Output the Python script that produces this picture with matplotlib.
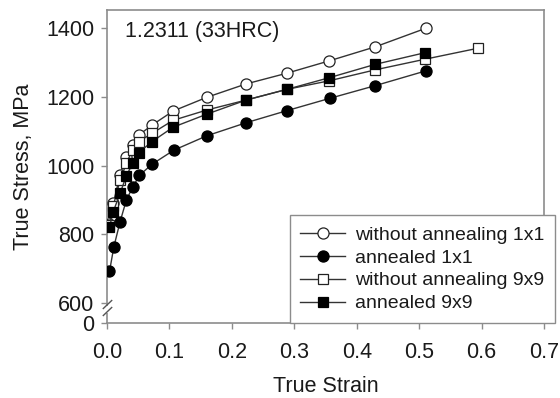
import matplotlib
matplotlib.use("Agg")
import matplotlib.pyplot as plt
from matplotlib.lines import Line2D

plt.rcParams['font.family'] = ['Liberation Sans', 'DejaVu Sans']

# Data
x_wo11 = [0.004, 0.010, 0.021, 0.031, 0.041, 0.051, 0.072, 0.106, 0.160, 0.223, 0.288, 0.356, 0.430, 0.511]
y_wo11 = [830, 890, 973, 1026, 1060, 1089, 1118, 1159, 1199, 1238, 1269, 1305, 1346, 1400]

x_an11 = [0.004, 0.011, 0.021, 0.031, 0.041, 0.052, 0.072, 0.107, 0.160, 0.223, 0.288, 0.357, 0.430, 0.511]
y_an11 = [692, 764, 837, 900, 937, 972, 1004, 1045, 1087, 1125, 1160, 1196, 1233, 1276]

x_wo99 = [0.004, 0.010, 0.021, 0.031, 0.041, 0.051, 0.072, 0.106, 0.160, 0.223, 0.288, 0.356, 0.430, 0.510, 0.595]
y_wo99 = [826, 883, 958, 1007, 1046, 1070, 1094, 1132, 1162, 1191, 1222, 1247, 1279, 1310, 1342]

x_an99 = [0.004, 0.010, 0.021, 0.031, 0.041, 0.051, 0.072, 0.106, 0.160, 0.223, 0.288, 0.356, 0.430, 0.510]
y_an99 = [821, 866, 920, 970, 1007, 1038, 1070, 1112, 1150, 1191, 1222, 1256, 1295, 1329]

labels = ["without annealing 1x1", "annealed 1x1", "without annealing 9x9", "annealed 9x9"]
xticks = [0.0, 0.1, 0.2, 0.3, 0.4, 0.5, 0.6, 0.7]
yticks = [600, 800, 1000, 1200, 1400]

W, H = 560, 398
fig = plt.figure(figsize=(W / 100, H / 100), dpi=100)
ax = fig.add_axes([107 / W, 1 - 322.7 / H, (544 - 107) / W, (322.7 - 10) / H])

y_zero = 543  # compressed position for the "0" label (broken axis)
lc = '#333333'
fs = 15.5
lfs = 14

ax.plot(x_wo11, y_wo11, '-o', color=lc, lw=1.0, mfc='white', mec='#222222', ms=8, mew=0.9,
        label=labels[0], zorder=3)
ax.plot(x_an11, y_an11, '-o', color=lc, lw=1.0, mfc='black', mec='black', ms=8, mew=0.9,
        label=labels[1], zorder=3)
ax.plot(x_wo99, y_wo99, '-s', color=lc, lw=1.0, mfc='white', mec='#222222', ms=7, mew=0.9,
        label=labels[2], zorder=3)
ax.plot(x_an99, y_an99, '-s', color=lc, lw=1.0, mfc='black', mec='black', ms=7, mew=0.9,
        label=labels[3], zorder=3)

ax.set_xlim(0, 0.7)
ax.set_ylim(y_zero, 1453)
ax.set_xticks(xticks)
ax.set_xticklabels([f"{v:.1f}" for v in xticks])
ax.set_yticks([y_zero] + yticks)
ax.set_yticklabels(["0"] + [str(v) for v in yticks])

for s in ax.spines.values():
    s.set_color('#8c8c8c')
    s.set_linewidth(1.2)
ax.tick_params(axis='both', colors='#8c8c8c', labelcolor='#1a1a1a', labelsize=fs,
               direction='out', length=4, width=1.0)
ax.tick_params(axis='x', pad=10)
ax.tick_params(axis='y', pad=5)

ax.set_xlabel("True Strain", fontsize=fs, color='#1a1a1a', labelpad=9)
ax.set_ylabel("True Stress, MPa", fontsize=fs, color='#1a1a1a', labelpad=9)

ax.text(125 / W, 1 - 32 / H, "1.2311 (33HRC)", transform=fig.transFigure,
        fontsize=fs, color='#1a1a1a', ha='left', va='center')

# axis break marks
def px(xp, yp):
    return (xp / W, 1 - yp / H)

gap = plt.Rectangle(px(104, 312.5), 6 / W, 7 / H, transform=fig.transFigure,
                    facecolor='white', edgecolor='none', zorder=5)
fig.add_artist(gap)
for (x0, y0, x1, y1) in [(103.3, 308.5, 111.7, 300.5), (103.3, 315.5, 111.7, 307.5)]:
    p0, p1 = px(x0, y0), px(x1, y1)
    fig.add_artist(Line2D([p0[0], p1[0]], [p0[1], p1[1]], transform=fig.transFigure,
                          color='#555555', lw=1.0, zorder=6))

leg = ax.legend(loc='lower right', bbox_to_anchor=(555 / W, 1 - 323 / H),
                bbox_transform=fig.transFigure, fontsize=lfs, frameon=True, fancybox=False,
                edgecolor='#8c8c8c', handlelength=2.3, handletextpad=0.5,
                labelspacing=0.27, borderpad=0.55, borderaxespad=0, framealpha=1)
leg.get_frame().set_linewidth(1.0)
leg.set_zorder(10)
for t in leg.get_texts():
    t.set_color('#1a1a1a')

fig.savefig("out.png", dpi=100)
